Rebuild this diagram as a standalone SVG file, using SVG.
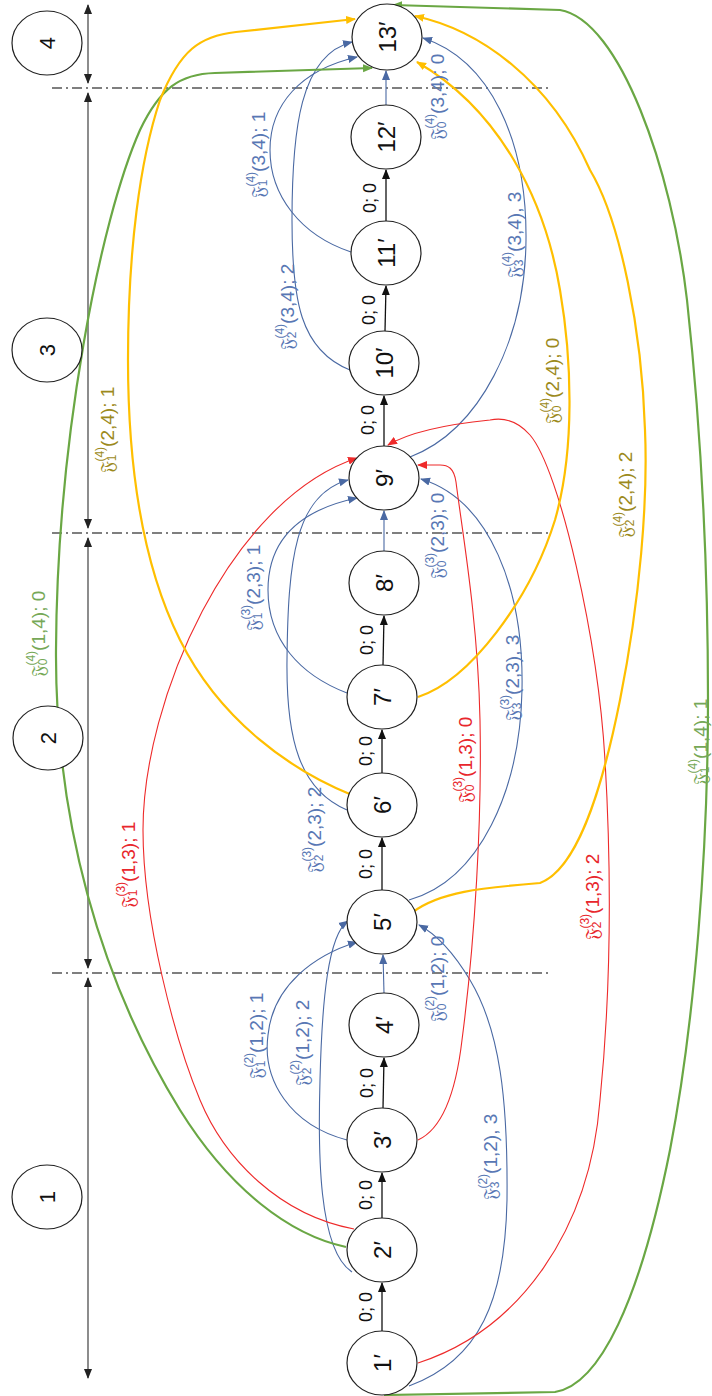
<svg xmlns="http://www.w3.org/2000/svg" width="712" height="1396" viewBox="0 0 712 1396">
<style>
.node ellipse{fill:#fff;stroke:#222;stroke-width:1.2}
.nl{font-family:"Liberation Sans","DejaVu Sans",sans-serif;font-size:24px;fill:#111;text-anchor:middle;dominant-baseline:central}
.sl{font-family:"Liberation Sans","DejaVu Sans",sans-serif;font-size:22px;fill:#111;text-anchor:middle;dominant-baseline:central}
.zl{font-family:"Liberation Sans","DejaVu Sans",sans-serif;font-size:18px;fill:#111;text-anchor:middle;dominant-baseline:central}
.t{font-family:"Liberation Sans","DejaVu Sans",sans-serif;font-size:19px;text-anchor:middle;dominant-baseline:central}
.s{font-size:12px}
.tb{fill:#5877b4}.tr{fill:#e8262c}.ty{fill:#9c8a1c}.tg{fill:#76a857}
.e{fill:none}
.k{stroke:#111;stroke-width:1.3}
.b{stroke:#4a69a3;stroke-width:1.1}
.r{stroke:#ee2a2a;stroke-width:1.1}
.y{stroke:#ffbf00;stroke-width:2.2}
.g{stroke:#6aa744;stroke-width:2.2}
.dash{stroke:#555;stroke-width:1.5;stroke-dasharray:10 4 2 4;fill:none}
.dim{stroke:#404040;stroke-width:1.2;fill:none}
</style>
<defs>
<marker id="ak" viewBox="0 0 10 10" refX="9" refY="5" markerWidth="10" markerHeight="10" markerUnits="userSpaceOnUse" orient="auto"><path d="M0,1 L10,5 L0,9 z" fill="#111"/></marker>
<marker id="ad" viewBox="0 0 10 10" refX="9" refY="5" markerWidth="10" markerHeight="10" markerUnits="userSpaceOnUse" orient="auto-start-reverse"><path d="M0,1 L10,5 L0,9 z" fill="#222"/></marker>
<marker id="ab" viewBox="0 0 10 10" refX="9" refY="5" markerWidth="10" markerHeight="10" markerUnits="userSpaceOnUse" orient="auto"><path d="M0,1 L10,5 L0,9 z" fill="#4a69a3"/></marker>
<marker id="ar" viewBox="0 0 10 10" refX="9" refY="5" markerWidth="10" markerHeight="10" markerUnits="userSpaceOnUse" orient="auto"><path d="M0,1 L10,5 L0,9 z" fill="#ee2a2a"/></marker>
<marker id="ay" viewBox="0 0 10 10" refX="9" refY="5" markerWidth="10" markerHeight="10" markerUnits="userSpaceOnUse" orient="auto"><path d="M0,1 L10,5 L0,9 z" fill="#ffbf00"/></marker>
<marker id="ag" viewBox="0 0 10 10" refX="9" refY="5" markerWidth="10" markerHeight="10" markerUnits="userSpaceOnUse" orient="auto"><path d="M0,1 L10,5 L0,9 z" fill="#6aa744"/></marker>
</defs>

<g id="stages">
<line class="dash" x1="52" y1="88" x2="550" y2="88"/>
<line class="dash" x1="52" y1="533" x2="550" y2="533"/>
<line class="dash" x1="52" y1="973" x2="550" y2="973"/>
<line class="dim" x1="88" y1="5" x2="88" y2="83" marker-start="url(#ad)" marker-end="url(#ad)"/>
<line class="dim" x1="88" y1="93" x2="88" y2="528" marker-start="url(#ad)" marker-end="url(#ad)"/>
<line class="dim" x1="88" y1="538" x2="88" y2="968" marker-start="url(#ad)" marker-end="url(#ad)"/>
<line class="dim" x1="88" y1="978" x2="88" y2="1378" marker-start="url(#ad)" marker-end="url(#ad)"/>
</g>

<g id="connectors">
<path class="e k" d="M382,1331 L382,1283" marker-end="url(#ak)"/>
<path class="e k" d="M382,1218 L382,1173" marker-end="url(#ak)"/>
<path class="e k" d="M383,1108 L384,1058" marker-end="url(#ak)"/>
<path class="e k" d="M382,890 L382,838" marker-end="url(#ak)"/>
<path class="e k" d="M382,773 L382,730" marker-end="url(#ak)"/>
<path class="e k" d="M383,665 L384,616" marker-end="url(#ak)"/>
<path class="e k" d="M384,446 L384,396" marker-end="url(#ak)"/>
<path class="e k" d="M385,331 L386,286" marker-end="url(#ak)"/>
<path class="e k" d="M386,221 L386,170" marker-end="url(#ak)"/>
<path class="e b" d="M347,1140 C290,1125 262,1080 268,1035 C273,985 315,955 357,942" marker-end="url(#ab)"/>
<path class="e b" d="M352,1272 C318,1250 318,1150 320,1080 C322,1000 328,935 348,921" marker-end="url(#ab)"/>
<path class="e b" d="M409,1386 C480,1360 505,1300 507,1200 C508,1100 500,1030 470,980 C452,950 436,934 419,925" marker-end="url(#ab)"/>
<path class="e b" d="M384,993 L383,955" marker-end="url(#ab)"/>
<path class="e b" d="M347,693 C300,675 268,640 268,590 C268,540 300,510 357,498" marker-end="url(#ab)"/>
<path class="e b" d="M347,810 C300,790 286,740 287,660 C288,560 295,495 348,480" marker-end="url(#ab)"/>
<path class="e b" d="M409,900 C480,880 520,790 522,690 C524,590 490,500 421,479" marker-end="url(#ab)"/>
<path class="e b" d="M384,551 L384,511" marker-end="url(#ab)"/>
<path class="e b" d="M351,252 C300,235 270,195 270,150 C270,105 300,70 357,57" marker-end="url(#ab)"/>
<path class="e b" d="M350,370 C300,350 292,300 292,220 C292,130 300,55 352,42" marker-end="url(#ab)"/>
<path class="e b" d="M410,457 C480,430 525,340 526,240 C527,140 490,60 423,38" marker-end="url(#ab)"/>
<path class="e b" d="M386,105 L386,71" marker-end="url(#ab)"/>
<path class="e r" d="M354,1229 C280,1215 225,1160 200,1100 C175,1040 143,920 143,830 C143,700 230,500 357,458" marker-end="url(#ar)"/>
<path class="e r" d="M418,1140 C440,1130 455,1100 462,1040 C475,940 482,820 480,720 C478,620 462,530 456,482 C454,468 448,465 440,465 L418,465" marker-end="url(#ar)"/>
<path class="e r" d="M418,1363 C520,1330 590,1230 600,1100 C610,1000 612,880 605,760 C598,640 560,470 530,435 C515,418 500,418 490,420 C450,424 410,432 388,445" marker-end="url(#ar)"/>
<path class="e g" d="M346,1247 C290,1235 230,1190 180,1110 C100,980 55,820 56,650 C57,440 100,220 140,130 C160,88 180,74 215,73 L372,68" marker-end="url(#ag)"/>
<path class="e g" d="M384,1395 L555,1392 C600,1385 640,1300 670,1150 C695,1020 708,850 708,700 C708,560 700,420 687,300 C672,170 620,20 560,10 L393,5" marker-end="url(#ag)"/>
<path class="e y" d="M352,795 C290,770 220,720 180,640 C140,560 128,460 128,360 C128,250 140,160 160,100 C180,50 200,36 236,32 L355,19" marker-end="url(#ay)"/>
<path class="e y" d="M418,697 C470,680 530,600 555,520 C575,450 572,360 560,290 C545,200 500,110 417,62" marker-end="url(#ay)"/>
<path class="e y" d="M413,912 C440,892 480,888 540,883 C575,870 600,800 620,700 C640,600 648,500 645,430 C642,330 620,220 590,170 C550,80 480,30 415,16" marker-end="url(#ay)"/>
</g>

<g id="edge-labels">
<text class="zl" transform="translate(366,1307) rotate(-90)">0; 0</text>
<text class="zl" transform="translate(366,1195) rotate(-90)">0; 0</text>
<text class="zl" transform="translate(367,1083) rotate(-90)">0; 0</text>
<text class="zl" transform="translate(366,864) rotate(-90)">0; 0</text>
<text class="zl" transform="translate(366,751) rotate(-90)">0; 0</text>
<text class="zl" transform="translate(367,640) rotate(-90)">0; 0</text>
<text class="zl" transform="translate(368,420) rotate(-90)">0; 0</text>
<text class="zl" transform="translate(369,310) rotate(-90)">0; 0</text>
<text class="zl" transform="translate(370,198) rotate(-90)">0; 0</text>

<text class="t tb" transform="translate(258,155) rotate(-90)">𝔉<tspan class="s" dy="5">1</tspan><tspan class="s" dx="-7" dy="-12">(4)</tspan><tspan dy="7">(3,4); 1</tspan></text>
<text class="t tb" transform="translate(437,97) rotate(-90)">𝔉<tspan class="s" dy="5">0</tspan><tspan class="s" dx="-7" dy="-12">(4)</tspan><tspan dy="7">(3,4); 0</tspan></text>
<text class="t tb" transform="translate(287,307) rotate(-90)">𝔉<tspan class="s" dy="5">2</tspan><tspan class="s" dx="-7" dy="-12">(4)</tspan><tspan dy="7">(3,4); 2</tspan></text>
<text class="t tb" transform="translate(514,235) rotate(-90)">𝔉<tspan class="s" dy="5">3</tspan><tspan class="s" dx="-7" dy="-12">(4)</tspan><tspan dy="7">(3,4), 3</tspan></text>
<text class="t tb" transform="translate(253,588) rotate(-90)">𝔉<tspan class="s" dy="5">1</tspan><tspan class="s" dx="-7" dy="-12">(3)</tspan><tspan dy="7">(2,3); 1</tspan></text>
<text class="t tb" transform="translate(437,536) rotate(-90)">𝔉<tspan class="s" dy="5">0</tspan><tspan class="s" dx="-7" dy="-12">(3)</tspan><tspan dy="7">(2,3); 0</tspan></text>
<text class="t tb" transform="translate(314,830) rotate(-90)">𝔉<tspan class="s" dy="5">2</tspan><tspan class="s" dx="-7" dy="-12">(3)</tspan><tspan dy="7">(2,3); 2</tspan></text>
<text class="t tb" transform="translate(512,678) rotate(-90)">𝔉<tspan class="s" dy="5">3</tspan><tspan class="s" dx="-7" dy="-12">(3)</tspan><tspan dy="7">(2,3), 3</tspan></text>
<text class="t tb" transform="translate(256,1036) rotate(-90)">𝔉<tspan class="s" dy="5">1</tspan><tspan class="s" dx="-7" dy="-12">(2)</tspan><tspan dy="7">(1,2); 1</tspan></text>
<text class="t tb" transform="translate(302,1043) rotate(-90)">𝔉<tspan class="s" dy="5">2</tspan><tspan class="s" dx="-7" dy="-12">(2)</tspan><tspan dy="7">(1,2); 2</tspan></text>
<text class="t tb" transform="translate(437,979) rotate(-90)">𝔉<tspan class="s" dy="5">0</tspan><tspan class="s" dx="-7" dy="-12">(2)</tspan><tspan dy="7">(1,2); 0</tspan></text>
<text class="t tb" transform="translate(490,1157) rotate(-90)">𝔉<tspan class="s" dy="5">3</tspan><tspan class="s" dx="-7" dy="-12">(2)</tspan><tspan dy="7">(1,2), 3</tspan></text>

<text class="t tr" transform="translate(128,865) rotate(-90)">𝔉<tspan class="s" dy="5">1</tspan><tspan class="s" dx="-7" dy="-12">(3)</tspan><tspan dy="7">(1,3); 1</tspan></text>
<text class="t tr" transform="translate(465,760) rotate(-90)">𝔉<tspan class="s" dy="5">0</tspan><tspan class="s" dx="-7" dy="-12">(3)</tspan><tspan dy="7">(1,3); 0</tspan></text>
<text class="t tr" transform="translate(592,897) rotate(-90)">𝔉<tspan class="s" dy="5">2</tspan><tspan class="s" dx="-7" dy="-12">(3)</tspan><tspan dy="7">(1,3); 2</tspan></text>

<text class="t ty" transform="translate(107,430) rotate(-90)">𝔉<tspan class="s" dy="5">1</tspan><tspan class="s" dx="-7" dy="-12">(4)</tspan><tspan dy="7">(2,4); 1</tspan></text>
<text class="t ty" transform="translate(552,381) rotate(-90)">𝔉<tspan class="s" dy="5">0</tspan><tspan class="s" dx="-7" dy="-12">(4)</tspan><tspan dy="7">(2,4); 0</tspan></text>
<text class="t ty" transform="translate(625,495) rotate(-90)">𝔉<tspan class="s" dy="5">2</tspan><tspan class="s" dx="-7" dy="-12">(4)</tspan><tspan dy="7">(2,4); 2</tspan></text>

<text class="t tg" transform="translate(38,634) rotate(-90)">𝔉<tspan class="s" dy="5">0</tspan><tspan class="s" dx="-7" dy="-12">(4)</tspan><tspan dy="7">(1,4); 0</tspan></text>
<text class="t tg" transform="translate(700,742) rotate(-90)">𝔉<tspan class="s" dy="5">1</tspan><tspan class="s" dx="-7" dy="-12">(4)</tspan><tspan dy="7">(1,4); 1</tspan></text>
</g>

<g id="stage-1" class="node"><ellipse cx="47" cy="1197" rx="35" ry="32"/><text class="sl" transform="translate(47,1197) rotate(-90)">1</text></g>
<g id="stage-2" class="node"><ellipse cx="48" cy="738" rx="35" ry="32"/><text class="sl" transform="translate(48,738) rotate(-90)">2</text></g>
<g id="stage-3" class="node"><ellipse cx="47" cy="350" rx="35" ry="32"/><text class="sl" transform="translate(47,350) rotate(-90)">3</text></g>
<g id="stage-4" class="node"><ellipse cx="47" cy="43" rx="35" ry="32"/><text class="sl" transform="translate(47,43) rotate(-90)">4</text></g>

<g id="n1" class="node"><ellipse cx="382" cy="1363" rx="35" ry="32"/><text class="nl" transform="translate(382,1363) rotate(-90)">1′</text></g>
<g id="n2" class="node"><ellipse cx="382" cy="1250" rx="35" ry="32"/><text class="nl" transform="translate(382,1250) rotate(-90)">2′</text></g>
<g id="n3" class="node"><ellipse cx="382" cy="1140" rx="35" ry="32"/><text class="nl" transform="translate(382,1140) rotate(-90)">3′</text></g>
<g id="n4" class="node"><ellipse cx="384" cy="1025" rx="35" ry="32"/><text class="nl" transform="translate(384,1025) rotate(-90)">4′</text></g>
<g id="n5" class="node"><ellipse cx="382" cy="922" rx="35" ry="32"/><text class="nl" transform="translate(382,922) rotate(-90)">5′</text></g>
<g id="n6" class="node"><ellipse cx="382" cy="805" rx="35" ry="32"/><text class="nl" transform="translate(382,805) rotate(-90)">6′</text></g>
<g id="n7" class="node"><ellipse cx="382" cy="697" rx="35" ry="32"/><text class="nl" transform="translate(382,697) rotate(-90)">7′</text></g>
<g id="n8" class="node"><ellipse cx="384" cy="583" rx="35" ry="32"/><text class="nl" transform="translate(384,583) rotate(-90)">8′</text></g>
<g id="n9" class="node"><ellipse cx="384" cy="478" rx="35" ry="32"/><text class="nl" transform="translate(384,478) rotate(-90)">9′</text></g>
<g id="n10" class="node"><ellipse cx="384" cy="363" rx="35" ry="32"/><text class="nl" transform="translate(384,363) rotate(-90)">10′</text></g>
<g id="n11" class="node"><ellipse cx="386" cy="253" rx="35" ry="32"/><text class="nl" transform="translate(386,253) rotate(-90)">11′</text></g>
<g id="n12" class="node"><ellipse cx="386" cy="137" rx="35" ry="32"/><text class="nl" transform="translate(386,137) rotate(-90)">12′</text></g>
<g id="n13" class="node"><ellipse cx="387" cy="37" rx="35" ry="33"/><text class="nl" transform="translate(387,37) rotate(-90)">13′</text></g>
</svg>
